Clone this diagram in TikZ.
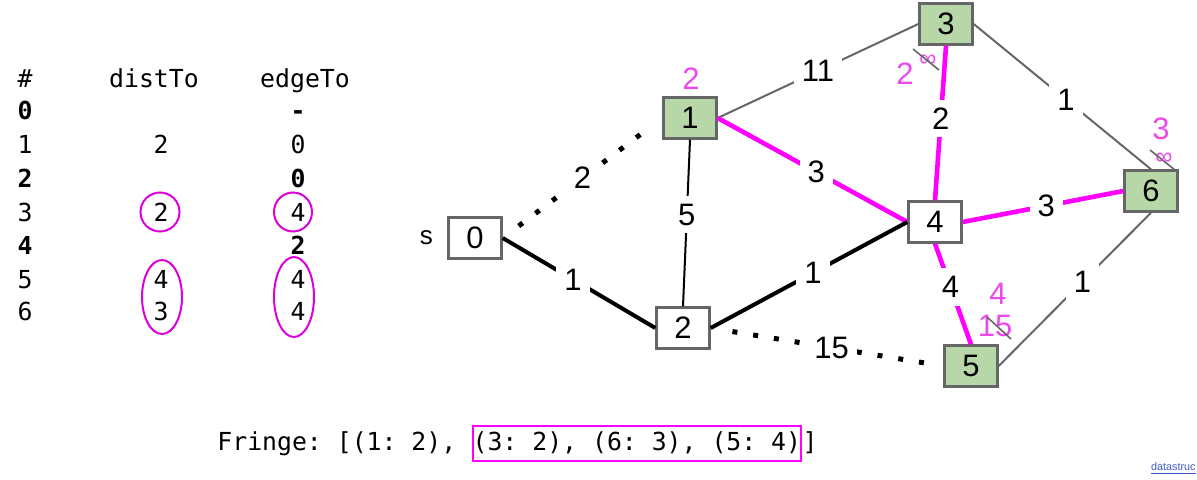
\documentclass[tikz,border=0pt]{standalone}
\usepackage{fontspec}
\setmainfont{Liberation Sans}
\setmonofont{DejaVu Sans Mono}
\usepackage{tikz}
\usetikzlibrary{positioning}
\definecolor{vgray}{RGB}{102,102,102}
\definecolor{vgreen}{RGB}{183,215,168}
\definecolor{hot}{RGB}{255,0,255}
\definecolor{notepink}{RGB}{236,72,236}
\definecolor{ringpink}{RGB}{220,0,220}
\definecolor{linkblue}{RGB}{60,90,200}
\tikzset{
  vtx/.style={draw=vgray, line width=1.2pt, rectangle, minimum width=26.5pt, minimum height=20.5pt, inner sep=0pt, font=\fontsize{15.5}{18}\selectfont},
  done/.style={vtx, fill=vgreen},
  wt/.style={fill=white, text=black, inner sep=4pt, font=\fontsize{15.5}{18}\selectfont},
  tree/.style={line width=2pt, black},
  best/.style={line width=2.3pt, hot},
  link/.style={line width=1pt, black},
  other/.style={line width=1pt, vgray},
  dots/.style={line width=2.5pt, black, dash pattern=on 2.5pt off 8pt},
  note/.style={text=notepink, inner sep=0pt, font=\fontsize{15.5}{18}\selectfont},
  inf/.style={note, font=\fontsize{12}{14}\selectfont},
  strike/.style={vgray, line width=0.8pt},
  tab/.style={anchor=base, inner sep=0pt, font=\ttfamily\fontsize{12.4}{14}\selectfont},
  tabb/.style={tab, font=\ttfamily\bfseries\fontsize{12.4}{14}\selectfont},
  ring/.style={draw=ringpink, line width=1pt},
}

\begin{document}
\begin{tikzpicture}[x=0.5pt, y=-0.5pt]
    \useasboundingbox (0,0) rectangle (1197,480);

    % table
    \node[tab]  (hHash) at (25,88)  {\#};
    \node[tab]  (hDist) at (154,88) {distTo};
    \node[tab]  (hEdge) at (305,88) {edgeTo};
    \node[tabb] (r0) at (25,120)  {0};
    \node[tabb] (e0) at (298,120) {-};
    \node[tab]  (r1) at (25,154)  {1};
    \node[tab]  (d1) at (161,154) {2};
    \node[tab]  (e1) at (298,154) {0};
    \node[tabb] (r2) at (25,188)  {2};
    \node[tabb] (e2) at (298,188) {0};
    \node[tab]  (r3) at (25,222)  {3};
    \node[tab]  (d3) at (161,222) {2};
    \node[tab]  (e3) at (298,222) {4};
    \node[tabb] (r4) at (25,255)  {4};
    \node[tabb] (e4) at (298,255) {2};
    \node[tab]  (r5) at (25,289)  {5};
    \node[tab]  (d5) at (161,289) {4};
    \node[tab]  (e5) at (298,289) {4};
    \node[tab]  (r6) at (25,321)  {6};
    \node[tab]  (d6) at (161,321) {3};
    \node[tab]  (e6) at (298,321) {4};

    % rings round the changed entries
    \draw[ring] (160,212) ellipse [x radius=19.5, y radius=19.5];
    \draw[ring] (293,212) ellipse [x radius=19, y radius=19.5];
    \draw[ring] (162,297) ellipse [x radius=20, y radius=37];
    \draw[ring] (294,297) ellipse [x radius=20, y radius=40];

    % vertices
    \node[vtx]  (n0) at (475,238)  {0};
    \node[done] (n1) at (690,118)  {1};
    \node[vtx]  (n2) at (683,328)  {2};
    \node[done] (n3) at (946,24)   {3};
    \node[vtx]  (n4) at (935,222)  {4};
    \node[done] (n5) at (971,366)  {5};
    \node[done] (n6) at (1151,191) {6};
    \node[left=7pt of n0, inner sep=0pt, font=\fontsize{13}{15}\selectfont] (src) {s};

    % edges with weights
    \draw[dots, shorten <=10pt, shorten >=6pt] (n0.east) -- node[wt, pos=.5] (w01) {2} (n1.west);
    \draw[tree]  (n0.east)  -- node[wt, pos=.46] (w02) {1} (n2.west);
    \draw[link]  (n1.south) -- node[wt, pos=.45] (w12) {5} (n2.north);
    \draw[other] (n1.east)  -- node[wt, pos=.5]  (w13) {11} (n3.west);
    \draw[best]  (n1.east)  -- node[wt, pos=.52] (w14) {3} (n4.west);
    \draw[tree]  (n2.east)  -- node[wt, pos=.52] (w24) {1} (n4.west);
    \draw[dots, shorten <=11pt, shorten >=3pt] (n2.east) -- node[wt, pos=.52] (w25) {15} (n5.west);
    \draw[best]  (n3.south) -- node[wt, pos=.47] (w34) {2} (n4.north);
    \draw[other] (n3.east)  -- node[wt, pos=.52] (w36) {1} (n6.north);
    \draw[best]  (n4.east)  -- node[wt, pos=.52] (w46) {3} (n6.west);
    \draw[best]  (n4.south) -- node[wt, pos=.43] (w45) {4} (n5.north);
    \draw[other] (n5.east)  -- node[wt, pos=.55] (w56) {1} (n6.south);

    % distances written beside the vertices
    \node[note] (d1note) at (691,79)   {2};
    \node[note] (d3note) at (905,74)   {2};
    \node[inf]  (d3old)  at (928,61)   {∞};
    \draw[strike] (913,49) -- (939,70);
    \node[note] (d6note) at (1161,129) {3};
    \node[inf]  (d6old)  at (1164,159) {∞};
    \draw[strike] (1150,150) -- (1175,170);
    \node[note] (d5note) at (998,294)  {4};
    \node[note] (d5old)  at (995,326)  {15};
    \draw[strike] (987,317) -- (1011,339);

    % fringe
    \node[tab, anchor=base west] (fringe) at (217,450) {Fringe:~[(1:~2),~\null};
    \node[tab, anchor=base west, draw=hot, line width=1pt, text height=12pt, text depth=5.5pt] (front) at (fringe.base east) {(3:~2),~(6:~3),~(5:~4)};
    \node[tab, anchor=base west] (close) at (front.base east) {]};

    \node[anchor=base east, inner sep=0pt, text=linkblue, font=\fontsize{5.4}{7}\selectfont] (credit) at (1196,470) {\underline{datastruc}};
  \end{tikzpicture}
\end{document}
